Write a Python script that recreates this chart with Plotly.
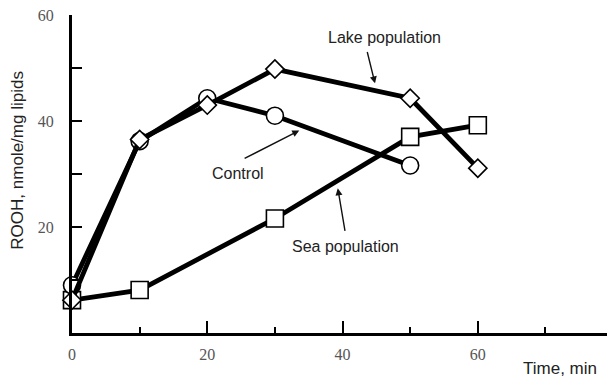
import plotly.graph_objects as go

# Hydroperoxide (ROOH) accumulation over time
time_control = [0, 10, 20, 30, 50]
rooh_control = [9.0, 36.2, 44.3, 41.0, 31.6]

time_lake = [0, 10, 20, 30, 50, 60]
rooh_lake = [6.2, 36.5, 43.0, 49.8, 44.3, 31.1]

time_sea = [0, 10, 30, 50, 60]
rooh_sea = [6.2, 8.1, 21.6, 37.0, 39.2]

x_tick_vals = [0, 20, 40, 60]
y_tick_vals = [20, 40, 60]

fig = go.Figure()

line_style = dict(color="black", width=4.8)
marker_line = dict(color="black", width=1.6)

fig.add_trace(go.Scatter(
    x=time_sea, y=rooh_sea, mode="lines+markers", name="Sea population",
    line=line_style, cliponaxis=False,
    marker=dict(symbol="square", size=17, color="white", line=marker_line),
))
fig.add_trace(go.Scatter(
    x=time_control, y=rooh_control, mode="lines+markers", name="Control",
    line=line_style, cliponaxis=False,
    marker=dict(symbol="circle", size=17, color="white", line=marker_line),
))
fig.add_trace(go.Scatter(
    x=time_lake, y=rooh_lake, mode="lines+markers", name="Lake population",
    line=line_style, cliponaxis=False,
    marker=dict(symbol="diamond", size=14, color="white", line=marker_line),
))

label_font = dict(family="Liberation Sans, Arial, sans-serif", size=16, color="#222")
tick_font = dict(family="Liberation Serif, Times New Roman, serif", size=16, color="#555")
title_font = dict(family="Liberation Sans, Arial, sans-serif", size=17, color="#222")

arrow_style = dict(text="", showarrow=True, arrowhead=2, arrowsize=1, arrowwidth=1.4,
                   arrowcolor="#111", standoff=0, axref="x", ayref="y")

annotations = [
    # labels with their pointer arrows
    dict(x=46.2, y=55.8, text="Lake population", showarrow=False, font=label_font,
         xanchor="center", yanchor="middle"),
    dict(x=44.8, y=47.1, ax=43.6, ay=53.3, **arrow_style),
    dict(x=24.6, y=30.1, text="Control", showarrow=False, font=label_font,
         xanchor="center", yanchor="middle"),
    dict(x=33.6, y=38.2, ax=25.3, ay=32.8, **arrow_style),
    dict(x=40.5, y=16.4, text="Sea population", showarrow=False, font=label_font,
         xanchor="center", yanchor="middle"),
    dict(x=39.3, y=27.3, ax=40.4, ay=19.0, **arrow_style),
    # axis titles
    dict(xref="paper", yref="paper", x=-0.101, y=0.545, text="ROOH, nmole/mg lipids",
         textangle=-90, showarrow=False, font=title_font,
         xanchor="center", yanchor="middle"),
    dict(xref="paper", yref="paper", x=1.0, xanchor="right", xshift=-8,
         y=-0.113, yanchor="middle", text="Time, min", showarrow=False, font=title_font),
]

fig.update_layout(
    width=607, height=377,
    margin=dict(l=72, r=0, t=15, b=44),
    paper_bgcolor="white", plot_bgcolor="white",
    showlegend=False,
    annotations=annotations,
    xaxis=dict(
        range=[0, 79.1], showgrid=False, zeroline=False,
        showline=True, linecolor="black", linewidth=3,
        tickmode="array", tickvals=x_tick_vals,
        ticks="inside", ticklen=12, tickwidth=2, tickcolor="black",
        minor=dict(dtick=10, tick0=0, ticks="inside", ticklen=6, tickwidth=2,
                   tickcolor="black", showgrid=False),
        tickfont=tick_font, ticklabelstandoff=5,
    ),
    yaxis=dict(
        range=[0, 60], showgrid=False, zeroline=False,
        showline=True, linecolor="black", linewidth=3,
        tickmode="array", tickvals=y_tick_vals,
        ticks="inside", ticklen=10, tickwidth=2, tickcolor="black",
        minor=dict(dtick=10, tick0=0, ticks="inside", ticklen=10, tickwidth=2,
                   tickcolor="black", showgrid=False),
        tickfont=tick_font, ticklabelstandoff=12,
    ),
)

fig.write_html("out.html")
